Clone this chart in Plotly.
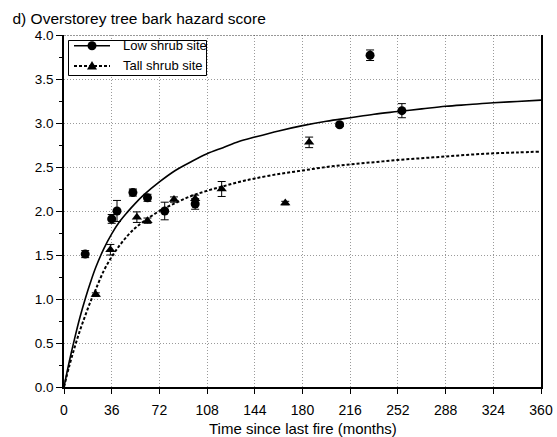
import plotly.graph_objects as go

# Observed bark hazard scores (mean ± SE) by time since fire
low_months = [16, 36, 40, 52, 63, 76, 99, 208, 231, 255]
low_score = [1.51, 1.91, 2.00, 2.21, 2.15, 2.00, 2.08, 2.98, 3.77, 3.14]
low_se = [0.04, 0.05, 0.12, 0.04, 0.04, 0.10, 0.06, 0.02, 0.06, 0.08]

tall_months = [24, 35, 55, 63, 83, 99, 119, 167, 185]
tall_score = [1.05, 1.56, 1.93, 1.89, 2.13, 2.14, 2.25, 2.09, 2.78]
tall_se = [0.02, 0.06, 0.06, 0.03, 0.03, 0.04, 0.085, 0.02, 0.06]

# Fitted response curves
curve_months = [0, 4, 8, 12, 16, 20, 24, 30, 36, 42, 48, 54, 60, 72, 84, 96, 108, 120, 132, 144,
                162, 180, 198, 216, 234, 252, 270, 288, 306, 324, 342, 360]
low_curve = [0, 0.29, 0.55, 0.79, 1.00, 1.19, 1.36, 1.57, 1.74, 1.88, 1.99, 2.09, 2.18, 2.33, 2.46,
             2.56, 2.65, 2.72, 2.79, 2.84, 2.91, 2.97, 3.02, 3.06, 3.10, 3.13, 3.16, 3.19, 3.21,
             3.23, 3.245, 3.26]
tall_curve = [0, 0.24, 0.45, 0.64, 0.81, 0.97, 1.11, 1.32, 1.48, 1.61, 1.72, 1.81, 1.88, 2.00, 2.09,
              2.17, 2.23, 2.28, 2.33, 2.37, 2.42, 2.46, 2.50, 2.53, 2.555, 2.58, 2.60, 2.62, 2.64,
              2.655, 2.665, 2.675]

series_names = ["Low shrub site", "Tall shrub site"]

x_ticks = [0, 36, 72, 108, 144, 180, 216, 252, 288, 324, 360]
y_ticks = [0.0, 0.5, 1.0, 1.5, 2.0, 2.5, 3.0, 3.5, 4.0]

FONT = "Liberation Sans, Arial, sans-serif"
DOTTED = "3px,2px"

W, H = 557, 437
ML, MR, MT, MB = 64, 16, 35, 50
PW, PH = W - ML - MR, H - MT - MB


def px_x(p):
    return (p - ML) / PW


def px_y(p):
    return (H - MB - p) / PH


fig = go.Figure()

fig.add_trace(go.Scatter(x=curve_months, y=low_curve, mode="lines", line_shape="spline",
                         line=dict(color="black", width=1.6), showlegend=False, hoverinfo="skip"))
fig.add_trace(go.Scatter(x=curve_months, y=tall_curve, mode="lines", line_shape="spline",
                         line=dict(color="black", width=2, dash=DOTTED), showlegend=False, hoverinfo="skip"))

fig.add_trace(go.Scatter(x=low_months, y=low_score, mode="markers", name=series_names[0], showlegend=False,
                         marker=dict(symbol="circle", size=9, color="black"),
                         error_y=dict(type="data", array=low_se, color="black", thickness=1, width=4)))
fig.add_trace(go.Scatter(x=tall_months, y=tall_score, mode="markers", name=series_names[1], showlegend=False,
                         marker=dict(symbol="triangle-up", size=9, color="black"),
                         error_y=dict(type="data", array=tall_se, color="black", thickness=1, width=4)))

# Top frame edge
fig.add_shape(type="line", xref="paper", yref="y", x0=0, x1=1, y0=4, y1=4,
              line=dict(color="#333333", width=1, dash="2px,1px"))

# Boxed key in the upper-left corner
fig.add_shape(type="rect", xref="paper", yref="paper",
              x0=px_x(68.5), x1=px_x(206.5), y0=px_y(75.5), y1=px_y(40.5),
              line=dict(color="black", width=1), fillcolor="white", layer="above")
rows = [(45.7, "solid", "circle"), (66.0, DOTTED, "triangle")]
for (row_y, dash, sym), label in zip(rows, series_names):
    fig.add_shape(type="line", xref="paper", yref="paper",
                  x0=px_x(74), x1=px_x(110), y0=px_y(row_y), y1=px_y(row_y),
                  line=dict(color="black", width=1.6 if dash == "solid" else 2, dash=dash), layer="above")
    if sym == "circle":
        fig.add_shape(type="circle", xref="paper", yref="paper", xsizemode="pixel", ysizemode="pixel",
                      xanchor=px_x(92), yanchor=px_y(row_y), x0=-4.5, x1=4.5, y0=-4.5, y1=4.5,
                      line=dict(color="black", width=0), fillcolor="black", layer="above")
    else:
        fig.add_shape(type="path", xref="paper", yref="paper", xsizemode="pixel", ysizemode="pixel",
                      xanchor=px_x(92), yanchor=px_y(row_y), path="M -5,-3.5 L 5,-3.5 L 0,5 Z",
                      line=dict(color="black", width=0), fillcolor="black", layer="above")
    fig.add_annotation(xref="paper", yref="paper", x=px_x(120.5), y=px_y(row_y),
                       xanchor="left", yanchor="middle", text=label, showarrow=False,
                       font=dict(family=FONT, size=13, color="black"))

# Horizontal axis title
fig.add_annotation(xref="paper", yref="paper", x=px_x((ML + W - MR) / 2), y=0, yshift=-41,
                   xanchor="center", yanchor="middle", text="Time since last fire (months)",
                   showarrow=False, font=dict(family=FONT, size=15, color="black"))

fig.update_layout(
    width=W, height=H,
    margin=dict(l=ML, r=MR, t=MT, b=MB),
    paper_bgcolor="white", plot_bgcolor="white",
    showlegend=False,
    font=dict(family=FONT, size=13.5, color="black"),
    title=dict(text="d) Overstorey tree bark hazard score", font=dict(family=FONT, size=15.5, color="black"),
               xref="container", yref="container", x=12.5 / W, xanchor="left",
               y=1 - 19 / H, yanchor="middle"),
    xaxis=dict(range=[0, 360], tickvals=x_ticks, ticktext=[str(v) for v in x_ticks],
               automargin=False,
               showgrid=True, gridcolor="#9a9a9a", griddash="1px,2px", gridwidth=1,
               showline=True, linecolor="black", linewidth=1.5, mirror=False,
               ticks="outside", ticklen=5, tickcolor="black", zeroline=False,
               tickfont=dict(size=14), ticklabelstandoff=4),
    yaxis=dict(range=[0, 4], tickvals=y_ticks, ticktext=[f"{v:.1f}" for v in y_ticks],
               automargin=False,
               showgrid=True, gridcolor="#9a9a9a", griddash="1px,2px", gridwidth=1,
               showline=True, linecolor="black", linewidth=1.5, mirror=True,
               ticks="outside", ticklen=6, tickcolor="black", zeroline=False,
               tickfont=dict(size=13.5), ticklabelstandoff=0,
               minor=dict(dtick=0.25, tick0=0, ticks="outside", ticklen=3, tickcolor="black", showgrid=False)),
)

fig.write_html("out.html")
